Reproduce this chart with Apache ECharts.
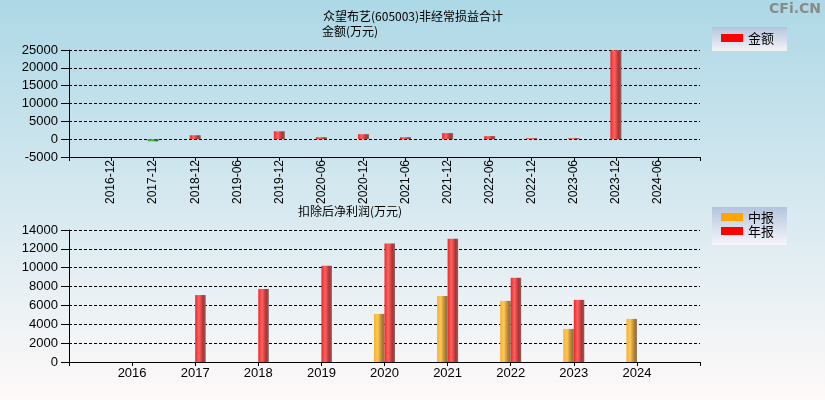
<!DOCTYPE html>
<html>
<head>
<meta charset="utf-8">
<script src="https://cdn.jsdelivr.net/npm/echarts@6/dist/echarts.min.js"></script>
<style>html,body{margin:0;padding:0;}#c{width:825px;height:400px;}</style>
</head>
<body>
<div id="c"></div>
<script>
// Top chart: 非经常损益合计 (万元)
const periodLabels = ['2016-12','2017-12','2018-12','2019-06','2019-12','2020-06','2020-12','2021-06','2021-12','2022-06','2022-12','2023-06','2023-12','2024-06'];
const nonRecurringValues = [null, -600, 1100, null, 2200, 550, 1400, 550, 1700, 850, 280, 280, 24900, null];
const topTicks = { min: -5000, max: 25000, interval: 5000 };

// Bottom chart: 扣除后净利润 (万元)
const yearLabels = ['2016','2017','2018','2019','2020','2021','2022','2023','2024'];
const interimValues = [null, null, null, null, 5100, 7000, 6480, 3510, 4570];
const annualValues = [null, 7100, 7750, 10200, 12570, 13070, 8930, 6590, null];
const bottomTicks = { min: 0, max: 14000, interval: 2000 };

const titleMain = '众望布艺(605003)非经常损益合计';
const titleTopUnit = '金额(万元)';
const titleBottom = '扣除后净利润(万元)';

function grad(stops) {
  return new echarts.graphic.LinearGradient(0, 0, 1, 0, stops.map(c => ({ offset: c[0], color: c[1] })));
}
const redGrad = grad([[0, '#ff1e1e'], [0.35, '#ff6464'], [0.75, '#b03232'], [1, '#6e6e6e']]);
const orangeGrad = grad([[0, '#ffb01e'], [0.35, '#ffc85a'], [0.75, '#b08032'], [1, '#7a7060']]);
const greenGrad = grad([[0, '#1ea01e'], [0.4, '#50c050'], [0.8, '#2a6a2a'], [1, '#6e6e6e']]);

const pad = arr => [null].concat(arr, [null]);
const padLabels = arr => [''].concat(arr, ['']);
const plain = v => String(v);

const txt = { color: '#000', fontFamily: '"Liberation Sans", Arial, sans-serif', fontSize: 12 };
const cjk = '"Noto Sans CJK SC", sans-serif';

const chart = echarts.init(document.getElementById('c'), null, { renderer: 'canvas' });
chart.setOption({
  animation: false,
  backgroundColor: new echarts.graphic.LinearGradient(0, 0, 0, 1, [
    { offset: 0, color: '#add8e6' }, { offset: 1, color: '#fff9f9' }
  ]),
  graphic: [
    { type: 'rect', left: 712, top: 27, shape: { width: 75, height: 24 },
      style: { fill: new echarts.graphic.LinearGradient(0, 0, 0, 1, [{ offset: 0, color: '#b4c4de' }, { offset: 1, color: '#f4f4f8' }]) } },
    { type: 'rect', left: 712, top: 207, shape: { width: 75, height: 38 },
      style: { fill: new echarts.graphic.LinearGradient(0, 0, 0, 1, [{ offset: 0, color: '#b4c4de' }, { offset: 1, color: '#f6f6fa' }]) } },
    { type: 'text', left: 323, top: 10, style: { text: titleMain, fill: '#000', font: '12px ' + cjk } },
    { type: 'text', left: 322, top: 25, style: { text: titleTopUnit, fill: '#000', font: '12px ' + cjk } },
    { type: 'text', left: 298, top: 205, style: { text: titleBottom, fill: '#000', font: '12px ' + cjk } },
    { type: 'text', right: 4, top: 2, style: { text: 'CFi.CN', fill: '#8a8a8a', font: 'bold 14px "DejaVu Sans", sans-serif' } }
  ],
  legend: [
    { left: 721, top: 31, padding: 0, orient: 'vertical', icon: 'rect', itemWidth: 22, itemHeight: 8, itemGap: 0,
      textStyle: { color: '#000', fontSize: 13, fontFamily: cjk, lineHeight: 14 },
      data: [{ name: '金额', itemStyle: { color: '#ff0000' } }] },
    { left: 721, top: 210, padding: 0, orient: 'vertical', icon: 'rect', itemWidth: 22, itemHeight: 8, itemGap: 0,
      textStyle: { color: '#000', fontSize: 13, fontFamily: cjk, lineHeight: 14 },
      data: [{ name: '中报', itemStyle: { color: '#ffa500' } }, { name: '年报', itemStyle: { color: '#ff0000' } }] }
  ],
  grid: [
    { left: 69, right: 125, top: 50, height: 107 },
    { left: 69, right: 125, top: 230, height: 132 }
  ],
  xAxis: [
    { gridIndex: 0, type: 'category', boundaryGap: false, data: padLabels(periodLabels),
      axisLine: { onZero: false, lineStyle: { color: '#000', width: 1 } },
      axisTick: { length: 4, interval: 0, lineStyle: { color: '#000' } },
      axisLabel: Object.assign({ rotate: 90, interval: 0, margin: 3 }, txt),
      splitLine: { show: false } },
    { gridIndex: 1, type: 'category', boundaryGap: false, data: padLabels(yearLabels),
      axisLine: { onZero: false, lineStyle: { color: '#000', width: 1 } },
      axisTick: { length: 4, interval: 0, lineStyle: { color: '#000' } },
      axisLabel: Object.assign({ interval: 0, margin: 5 }, txt, { fontSize: 13 }),
      splitLine: { show: false } }
  ],
  yAxis: [
    { gridIndex: 0, type: 'value', min: topTicks.min, max: topTicks.max, interval: topTicks.interval,
      axisLine: { show: true, lineStyle: { color: '#000' } },
      axisTick: { show: true, length: 8, lineStyle: { color: '#000' } },
      axisLabel: Object.assign({ margin: 11, formatter: plain }, txt, { fontSize: 13 }),
      splitLine: { show: true, lineStyle: { color: '#000', type: [3, 2], width: 1 } } },
    { gridIndex: 1, type: 'value', min: bottomTicks.min, max: bottomTicks.max, interval: bottomTicks.interval,
      axisLine: { show: true, lineStyle: { color: '#000' } },
      axisTick: { show: true, length: 8, lineStyle: { color: '#000' } },
      axisLabel: Object.assign({ margin: 11, formatter: plain }, txt, { fontSize: 13 }),
      splitLine: { show: true, lineStyle: { color: '#000', type: [3, 2], width: 1 } } }
  ],
  series: [
    { name: '金额', type: 'bar', xAxisIndex: 0, yAxisIndex: 0, barWidth: 11,
      data: pad(nonRecurringValues),
      itemStyle: { color: p => (p.value < 0 ? greenGrad : redGrad) } },
    { name: '中报', type: 'bar', xAxisIndex: 1, yAxisIndex: 1, barWidth: 10.5, barGap: 0,
      data: pad(interimValues), itemStyle: { color: orangeGrad } },
    { name: '年报', type: 'bar', xAxisIndex: 1, yAxisIndex: 1, barWidth: 10.5, barGap: 0,
      data: pad(annualValues), itemStyle: { color: redGrad } }
  ]
});
</script>
</body>
</html>
